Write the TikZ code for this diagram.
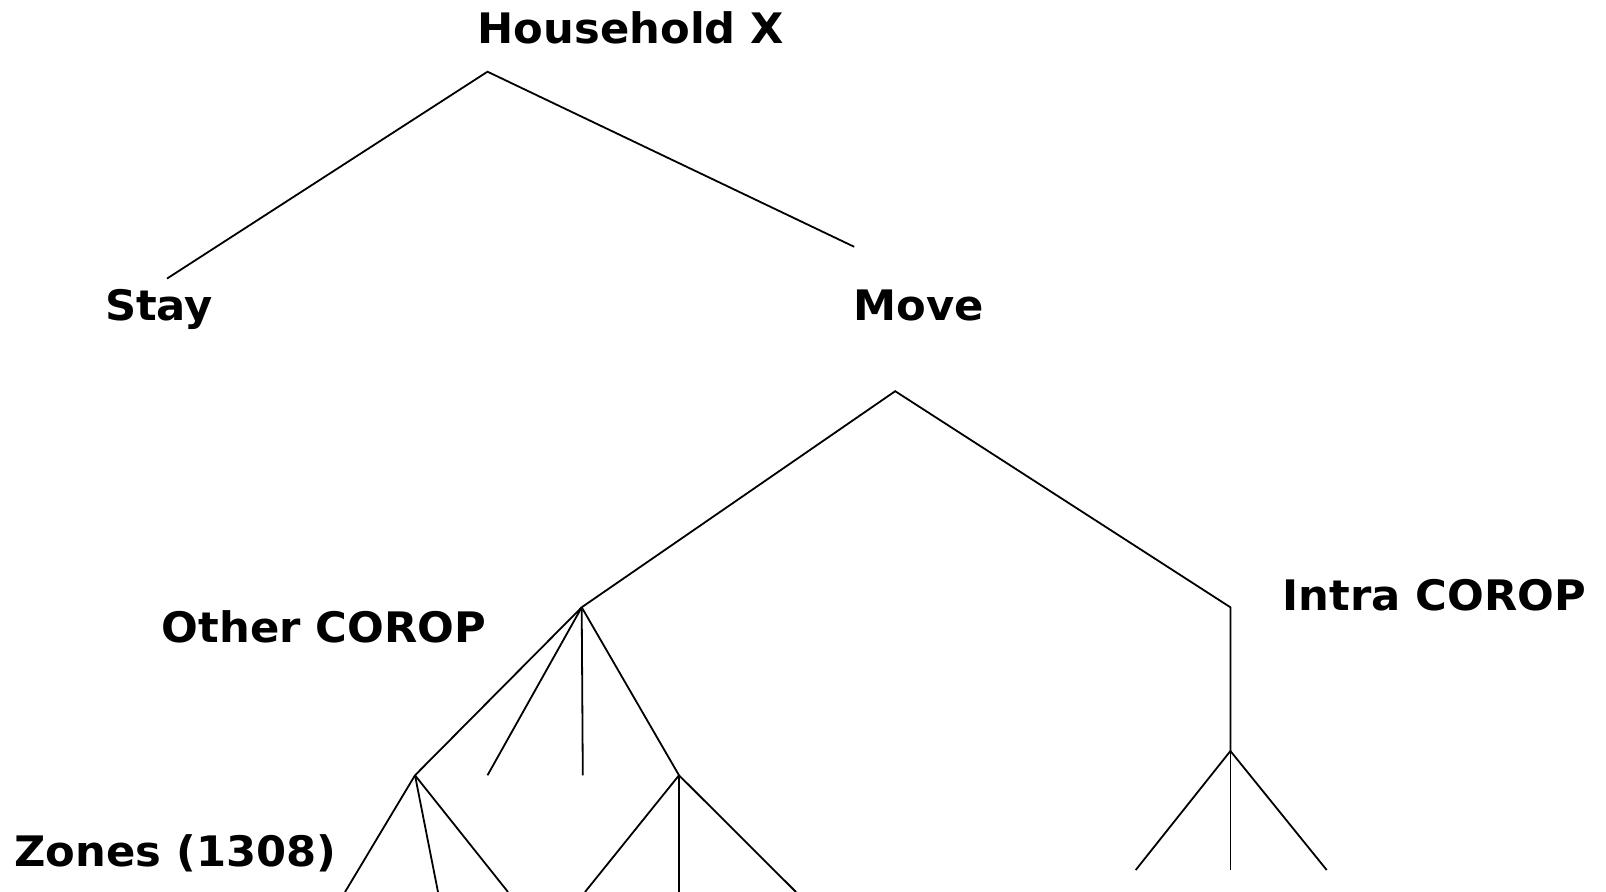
\documentclass[tikz,border=0pt]{standalone}
\usepackage{fontspec}
\setmainfont{DejaVu Sans}[FakeStretch=1.03]
\begin{document}
\begin{tikzpicture}[x=0.5pt,y=-0.5pt,
  lbl/.style={anchor=base,inner sep=0pt,font=\fontsize{21}{25}\selectfont\bfseries},
  branch/.style={line width=0.9pt,black}]
\useasboundingbox (0,0) rectangle (1606,892);

% labels
\node[lbl] (hh) at (631,44) {Household X};
\node[lbl] (stay) at (159,321) {Stay};
\node[lbl] (move) at (919,321) {Move};
\node[lbl] (other) at (324,642) {Other COROP};
\node[lbl] (intra) at (1434.5,610.5) {Intra COROP};
\node[lbl] (zones) at (175.5,866) {Zones (1308)};

% branch points
\coordinate (root) at (487.5,71.7);
\coordinate (stayend) at (167,278.6);
\coordinate (moveend) at (854.2,246.8);
\coordinate (mv) at (895.2,391.2);
\coordinate (oc) at (581.7,607.3);
\coordinate (icc) at (1230.4,607.3);
\coordinate (ic) at (1230.4,751);
\coordinate (z1) at (415,775.3);
\coordinate (sa) at (487.5,775.3);
\coordinate (sb) at (582.8,775.3);
\coordinate (z2) at (679,775.3);
\coordinate (z1a) at (345,892);
\coordinate (z1b) at (438,892);
\coordinate (z1c) at (508,892);
\coordinate (z2a) at (585,892);
\coordinate (z2b) at (679,892);
\coordinate (z2c) at (796,892);
\coordinate (ica) at (1135.7,870);
\coordinate (icb) at (1230.4,870);
\coordinate (icd) at (1326.7,870);

% top level
\draw[branch] (stayend) -- (root) -- (moveend);
% move split
\draw[branch] (oc) -- (mv) -- (icc) -- (ic);
% other COROP
\draw[branch] (oc) -- (z1);
\draw[branch] (oc) -- (sa);
\draw[branch] (oc) -- (sb);
\draw[branch] (oc) -- (z2);
% zones
\draw[branch] (z1) -- (z1a);
\draw[branch] (z1) -- (z1b);
\draw[branch] (z1) -- (z1c);
\draw[branch] (z2) -- (z2a);
\draw[branch] (z2) -- (z2b);
\draw[branch] (z2) -- (z2c);
% intra COROP
\draw[branch] (ic) -- (ica);
\draw[branch] (ic) -- (icb);
\draw[branch] (ic) -- (icd);
\end{tikzpicture}
\end{document}
